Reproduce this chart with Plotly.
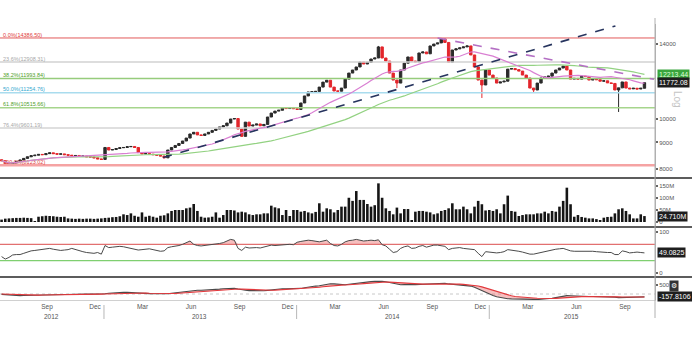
import numpy as np
import pandas as pd
import plotly.graph_objects as go

# ---------------- data ----------------
week_start = "2012-06-21"
n_weeks = 175
dates = pd.date_range(week_start, periods=n_weeks, freq="7D")

first_open = 8330
closes = [
    8290, 8200, 8150, 8210, 8270, 8320, 8380, 8440, 8480, 8500,
    8530, 8520, 8560, 8590, 8560, 8540, 8550, 8520, 8500, 8480,
    8490, 8460, 8470, 8440, 8430, 8400, 8360, 8340, 8800, 8700,
    8720, 8760, 8790, 8800, 8830, 8840, 8800, 8600, 8550, 8560,
    8540, 8520, 8500, 8470, 8400, 8700, 8800, 8880, 8960, 9060,
    9180, 9350, 9420, 9310, 9290, 9350, 9420, 9500, 9560, 9650,
    9700, 9820, 10000, 10020, 9560, 9250, 9860, 9690, 9730, 9780,
    9700, 9760, 10090, 10270, 10360, 10400, 10500, 10480, 10530, 10470,
    10440, 10745, 11090, 11290, 11300, 11320, 11540, 11800, 11900, 11540,
    11340, 11330, 11490, 11960, 12290, 12460, 12630, 12910, 12800, 12900,
    13090, 13150, 13820, 13150, 12970, 12290, 11910, 11750, 12460, 12850,
    13210, 12970, 12930, 13450, 13510, 13400, 13880, 14000, 14070, 14320,
    14100, 12910, 13630, 13700, 13760, 13820, 13880, 13330, 12630, 11910,
    11650, 12460, 12180, 12020, 11750, 11810, 11850, 12510, 12540, 12480,
    12400, 12180, 12020, 11490, 11390, 11750, 12020, 12070, 12120, 12290,
    12460, 12570, 12680, 12460, 11960, 12000, 11960, 12120, 12100, 11910,
    11960, 11930, 11850, 11870, 11760, 11730, 11390, 11500, 11810, 11490,
    11450, 11480, 11440, 11480, 11772.08,
]
high_wicks = {102: 13880, 119: 14386.50}
low_wicks = {2: 8123.02, 44: 8380, 65: 9230, 107: 11490, 130: 10990, 144: 11240, 167: 10320}

volume_m = [
    10, 14, 15, 16, 17, 17, 18, 17, 16, 4,
    22, 24, 26, 25, 24, 22, 21, 22, 15, 14,
    13, 14, 13, 14, 14, 13, 14, 15, 17, 18,
    20, 21, 24, 32, 29, 36, 26, 22, 40, 22,
    26, 22, 18, 26, 28, 36, 46, 50, 50, 50,
    57, 60, 75, 46, 22, 18, 19, 22, 40, 18,
    29, 50, 50, 48, 40, 43, 40, 32, 29, 32,
    32, 36, 36, 68, 61, 57, 29, 50, 25, 50,
    50, 43, 46, 40, 36, 42, 78, 43, 57, 53,
    40, 50, 64,
    64, 101, 88, 129, 92, 92, 75, 64, 70, 161,
    101, 57, 46, 32, 60, 36, 54, 54, 8, 43,
    46, 46, 43, 40, 32, 36, 46, 50, 57, 78,
    53, 53, 64, 53, 36, 64, 88, 74, 48, 50,
    46, 53, 36, 74, 110, 46, 43, 25, 29, 32,
    32, 32, 36, 36, 43, 36, 46, 43, 64, 88,
    143, 74, 22, 29, 21, 18, 15, 15, 12, 8,
    18, 21, 22, 36, 53, 57, 46, 32, 15, 15,
    32, 24.71,
]

rsi = [
    40, 34, 38, 44, 45, 45, 48, 52, 54, 55,
    56, 58, 59, 60, 58, 56, 55, 56, 57, 60,
    57, 54, 52, 50, 49, 48, 50, 46, 67, 62,
    63, 64, 65, 64, 62, 60, 58, 56, 57, 58,
    59, 57, 55, 53, 54, 62, 64, 65, 67, 70,
    74, 78, 70, 67, 66, 67, 68, 69, 70, 72,
    74, 78, 82, 80, 60, 55, 63, 61, 62, 62,
    61, 63, 65, 68, 67, 68, 69, 69, 70, 69,
    75, 77, 78, 80, 79, 78, 76, 78, 80, 72,
    67, 66, 70, 76, 79, 80, 82, 80, 78, 79,
    80, 79, 81, 69, 66, 58, 50, 52, 60, 64,
    66, 60, 61, 65, 67, 63, 66, 68, 68, 67,
    65, 57, 60, 61, 62, 60, 59, 58, 57, 48,
    40, 52, 51, 50, 49, 50, 52, 57, 56, 55,
    53, 51, 49, 46, 46, 48, 51, 52, 54, 56,
    58, 59, 60, 57, 54, 53, 53, 54, 54, 53,
    53, 52, 51, 51, 50, 50, 45, 45, 54, 52,
    49, 50, 51, 50, 49.0825,
]

macd = [
    -20, -40, -60, -80, -90, -90, -85, -80, -70, -60,
    -50, -40, -30, -20, -10, 0, 5, 10, 10, 15,
    15, 10, 5, 0, -5, -10, -10, -5, 10, 40,
    60, 70, 80, 90, 90, 85, 70, 55, 40, 30,
    20, 10, 0, -10, -10, 10, 40, 70, 100, 130,
    160, 190, 210, 210, 205, 210, 220, 235, 250, 270,
    290, 310, 330, 320, 280, 230, 210, 190, 180, 180,
    175, 180, 200, 230, 255, 275, 290, 295, 300, 295,
    290, 310, 350, 390, 420, 440, 460, 500, 540, 570,
    560, 530, 510, 510, 540, 570, 600, 630, 650, 670,
    690, 700, 720, 710, 680, 630, 570, 520, 510, 520,
    540, 530, 520, 530, 545, 550, 565, 580, 590, 600,
    595, 560, 540, 520, 500, 480, 470, 440, 380, 290,
    170, 70, -10, -80, -150, -200, -240, -260, -270, -270,
    -265, -260, -265, -280, -300, -310, -300, -280, -260, -235,
    -200, -160, -120, -90, -100, -115, -130, -135, -135, -135,
    -135, -135, -135, -140, -145, -150, -175, -200, -195, -185,
    -180, -175, -170, -165, -157.8106,
]
macd_signal = [
    0, -8, -20, -30, -45, -55, -60, -65, -65, -65,
    -60, -55, -50, -45, -35, -30, -20, -15, -10, -5,
    0, 5, 5, 5, 3, 0, -3, -5, -3, 5,
    15, 25, 35, 45, 55, 60, 62, 62, 58, 52,
    45, 38, 30, 22, 15, 13, 18, 28, 40, 55,
    75, 95, 115, 135, 150, 160, 172, 185, 198, 212,
    228, 245, 262, 275, 278, 270, 260, 245, 235, 225,
    215, 208, 205, 210, 218, 230, 242, 252, 262, 268,
    272, 280, 295, 315, 335, 355, 375, 400, 425, 455,
    475, 490, 495, 500, 505, 520, 535, 555, 575, 595,
    615, 632, 650, 662, 665, 660, 645, 620, 600, 585,
    575, 565, 555, 550, 550, 550, 552, 558, 565, 572,
    578, 575, 570, 560, 550, 535, 520, 505, 480, 445,
    395, 330, 260, 190, 120, 55, -5, -55, -100, -135,
    -160, -180, -195, -210, -225, -240, -250, -255, -256, -252,
    -242, -226, -205, -182, -165, -155, -150, -147, -145, -143,
    -141, -140, -139, -139, -140, -142, -149, -159, -166, -170,
    -172, -173, -172, -170, -167,
]

fib_pcts = ["0.0%", "23.6%", "38.2%", "50.0%", "61.8%", "76.4%", "100.0%"]
fib_vals = [14386.50, 12908.31, 11993.84, 11254.76, 10515.66, 9601.19, 8123.02]
fib_line_colors = ["#e25a5a", "#d2d2d2", "#96cc7c", "#a9dcee", "#a6d58c", "#d4d4d4", "#f5a3a3"]
fib_text_colors = ["#e03c3c", "#a8a8a8", "#4f9e2a", "#36a9cf", "#4f9e2a", "#a8a8a8", "#e03c3c"]
fib_widths = [1, 1.5, 1.5, 1.5, 1.5, 1.5, 2.5]

up_trend_dates = ["2013-04-23", "2015-08-28"]
up_trend_vals = [8414, 15184]
down_trend_dates = ["2014-09-25", "2015-11-09"]
down_trend_vals = [14386.5, 11950]

month_dates = ["2012-09-15", "2012-12-15", "2013-03-15", "2013-06-15", "2013-09-15",
               "2013-12-15", "2014-03-15", "2014-06-15", "2014-09-15", "2014-12-15",
               "2015-03-15", "2015-06-15", "2015-09-15"]
month_labels = ["Sep", "Dec", "Mar", "Jun", "Sep", "Dec", "Mar", "Jun", "Sep", "Dec",
                "Mar", "Jun", "Sep"]
year_labels = ["2012", "2013", "2014", "2015"]
year_label_dates = ["2012-09-24", "2013-07-01", "2014-07-01", "2015-06-06"]
year_starts = ["2013-01-01", "2014-01-01", "2015-01-01"]

x_start, x_end = "2012-06-18", "2015-11-11"

# ---------------- derived OHLC and averages ----------------
opens = [first_open] + closes[:-1]
highs = [max(o, c) for o, c in zip(opens, closes)]
lows = [min(o, c) for o, c in zip(opens, closes)]
for k, v in high_wicks.items():
    highs[k] = v
for k, v in low_wicks.items():
    lows[k] = v
close_s = pd.Series(closes, index=dates)
ma_fast = close_s.rolling(20, min_periods=1).mean()
ma_slow = close_s.rolling(55, min_periods=1).mean()

# ---------------- geometry ----------------
W, H = 692, 338
R_MARGIN = 37
PLOT_W = W - R_MARGIN


def py(ypix):
    return 1 - ypix / H


FONT = "Liberation Sans, Arial, sans-serif"
tick_font = dict(family=FONT, size=6, color="#555")

fig = go.Figure()

# Fibonacci retracement levels
for pct, val, lc, tc, lw in zip(fib_pcts, fib_vals, fib_line_colors, fib_text_colors, fib_widths):
    fig.add_trace(go.Scatter(x=[x_start, x_end], y=[val, val], mode="lines",
                             line=dict(color=lc, width=lw), yaxis="y", hoverinfo="skip"))
    fig.add_trace(go.Scatter(x=[x_start], y=[val], mode="text",
                             text=[f"  {pct}({val:.2f})"], textposition="top right",
                             textfont=dict(family=FONT, size=5.5, color=tc),
                             yaxis="y", hoverinfo="skip"))

# moving averages
fig.add_trace(go.Scatter(x=dates, y=ma_slow, mode="lines",
                         line=dict(color="#93d282", width=1.2), yaxis="y"))
fig.add_trace(go.Scatter(x=dates, y=ma_fast, mode="lines",
                         line=dict(color="#d97fd2", width=1.2), yaxis="y"))

# weekly candles
fig.add_trace(go.Candlestick(
    x=dates, open=opens, high=highs, low=lows, close=closes, yaxis="y",
    increasing=dict(line=dict(color="#2b2b2b", width=1), fillcolor="#2b2b2b"),
    decreasing=dict(line=dict(color="#e3262c", width=1), fillcolor="#e3262c"),
    whiskerwidth=0,
))

# trend lines
fig.add_trace(go.Scatter(x=up_trend_dates, y=up_trend_vals, mode="lines",
                         line=dict(color="#26345e", width=1.6, dash="dash"), yaxis="y"))
fig.add_trace(go.Scatter(x=down_trend_dates, y=down_trend_vals, mode="lines",
                         line=dict(color="#b46fc4", width=1.6, dash="dash"), yaxis="y"))

# volume
fig.add_trace(go.Bar(x=dates, y=volume_m, marker=dict(color="#151515", line=dict(width=0)),
                     yaxis="y2"))

# RSI
rsi_hi = np.maximum(np.array(rsi, dtype=float), 70)
fig.add_trace(go.Scatter(x=dates, y=[70] * n_weeks, mode="lines", line=dict(width=0),
                         yaxis="y3", hoverinfo="skip"))
fig.add_trace(go.Scatter(x=dates, y=rsi_hi, mode="lines", line=dict(width=0),
                         fill="tonexty", fillcolor="rgba(236,110,110,0.45)", yaxis="y3"))
fig.add_trace(go.Scatter(x=[x_start, x_end], y=[70, 70], mode="lines",
                         line=dict(color="#e27070", width=1.3), yaxis="y3"))
fig.add_trace(go.Scatter(x=[x_start, x_end], y=[30, 30], mode="lines",
                         line=dict(color="#7fcf70", width=1.3), yaxis="y3"))
fig.add_trace(go.Scatter(x=dates, y=rsi, mode="lines",
                         line=dict(color="#4a4a4a", width=1), yaxis="y3"))

# MACD
fig.add_trace(go.Scatter(x=[x_start, x_end], y=[0, 0], mode="lines",
                         line=dict(color="#c8c8c8", width=1, dash="dot"), yaxis="y4"))
fig.add_trace(go.Scatter(x=dates, y=macd, mode="lines",
                         line=dict(color="#4a4a4a", width=1.1), yaxis="y4"))
fig.add_trace(go.Scatter(x=dates, y=macd_signal, mode="lines",
                         line=dict(color="#e2383c", width=1.1), fill="tonexty",
                         fillcolor="rgba(232,96,96,0.40)", yaxis="y4"))

# ---------------- axes ----------------
price_range = [4 - (178 - 119) / 513, 4 + (119 - 24) / 513]
common_y = dict(anchor="x", side="right", showgrid=False, zeroline=False,
                showline=True, linecolor="#b0b0b0", linewidth=1,
                ticks="outside", ticklen=2, tickwidth=2, tickcolor="#666",
                tickfont=tick_font, fixedrange=True)

fig.update_layout(
    width=W, height=H,
    margin=dict(l=0, r=R_MARGIN, t=0, b=0),
    paper_bgcolor="white", plot_bgcolor="white",
    showlegend=False, boxgap=0.08, bargap=0.3,
    xaxis=dict(domain=[0, 1], anchor="y4", type="date", range=[x_start, x_end],
               tickvals=month_dates, ticktext=month_labels, ticks="",
               tickfont=dict(family=FONT, size=6.5, color="#555"),
               showgrid=False, zeroline=False, showline=True, linecolor="#d0d0d0",
               rangeslider=dict(visible=False)),
    yaxis=dict(domain=[py(178), py(24)], type="log", range=price_range,
               tickvals=[8000, 9000, 10000, 14000],
               ticktext=["8000", "9000", "10000", "14000"], **common_y),
    yaxis2=dict(domain=[py(227), py(178)], range=[-(227 - 222) / 0.24, (222 - 178) / 0.24],
                tickvals=[0, 50, 100, 150], ticktext=["0", "50M", "100M", "150M"], **common_y),
    yaxis3=dict(domain=[py(277), py(227)], range=[-(277 - 273) / 0.41, 100 + (232 - 227) / 0.41],
                tickvals=[0, 100], ticktext=["0", "100"], **common_y),
    yaxis4=dict(domain=[py(300), py(277)], range=[-(300 - 294) / 0.018, (294 - 277) / 0.018],
                tickvals=[500], ticktext=["500"], **common_y),
)

# panel separators
shapes = []
for yp in (178, 227, 277):
    shapes.append(dict(type="line", xref="paper", yref="paper", x0=0, x1=W / PLOT_W,
                       y0=py(yp), y1=py(yp), line=dict(color="#5c5c5c", width=2)))
shapes.append(dict(type="line", xref="paper", yref="paper", x0=1, x1=1,
                   y0=py(318), y1=py(18), line=dict(color="#b0b0b0", width=1)))
for ys in year_starts:
    shapes.append(dict(type="line", xref="x", yref="paper", x0=ys, x1=ys,
                       y0=py(319), y1=py(305), line=dict(color="#b8b8b8", width=1)))
fig.update_layout(shapes=shapes)

# annotations: year labels, value boxes, scale label
ann = []
for lab, d in zip(year_labels, year_label_dates):
    ann.append(dict(x=d, xref="x", y=py(316), yref="paper", yanchor="middle", text=lab,
                    showarrow=False, font=dict(family=FONT, size=6.5, color="#555")))


def value_box(text, y, yref, bg, fg):
    return dict(x=1.003, xref="paper", xanchor="left", y=y, yref=yref, yanchor="middle",
                text=text, showarrow=False, bgcolor=bg, borderpad=1,
                font=dict(family=FONT, size=7, color=fg))


ann.append(value_box("12213.44", np.log10(ma_slow.iloc[-1]), "y", "#3aa53e", "#dfffd8"))
ann.append(value_box(f"{closes[-1]:.2f}", np.log10(closes[-1]), "y", "#1e1e1e", "white"))
ann.append(value_box(f"{volume_m[-1]:.3f}M", volume_m[-1], "y2", "#1e1e1e", "white"))
ann.append(value_box(f"{rsi[-1]:.4f}", rsi[-1], "y3", "#1e1e1e", "white"))
ann.append(value_box(f"{macd[-1]:.4f}", macd[-1], "y4", "#1e1e1e", "white"))
ann.append(dict(x=674 / PLOT_W, xref="paper", xanchor="center", y=py(286), yref="paper",
                yanchor="middle", text="⚙", showarrow=False, bgcolor="#333", borderpad=1,
                font=dict(family="DejaVu Sans", size=7, color="white")))
ann.append(dict(x=678 / PLOT_W, xref="paper", xanchor="center", y=py(99), yref="paper",
                yanchor="middle", text="Log", textangle=90, showarrow=False,
                font=dict(family=FONT, size=10, color="#c4c4c4")))
fig.update_layout(annotations=ann)

fig.write_html("out.html")
